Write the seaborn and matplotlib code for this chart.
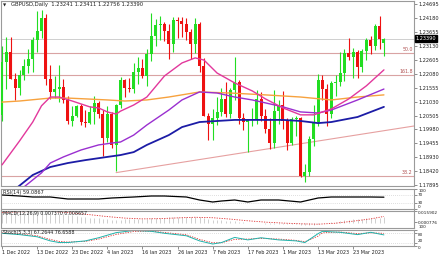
import numpy as np
import pandas as pd
import matplotlib
matplotlib.use("Agg")
import matplotlib.pyplot as plt
import seaborn as sns

# ---------------- data ----------------
date_labels = ["1 Dec 2022", "13 Dec 2022", "23 Dec 2022", "4 Jan 2023", "16 Jan 2023",
               "26 Jan 2023", "7 Feb 2023", "17 Feb 2023", "1 Mar 2023", "13 Mar 2023", "23 Mar 2023"]
date_label_bars = [0, 8, 16, 24, 32, 40, 48, 56, 64, 72, 80]

opens = [1.2054, 1.2252, 1.2290, 1.2189, 1.2154, 1.2203, 1.2236, 1.2264, 1.2334, 1.2367,
         1.2418, 1.2187, 1.2140, 1.2151, 1.2156, 1.2109, 1.2030, 1.2050, 1.2085, 1.2025,
         1.2024, 1.2064, 1.2097, 1.2056, 1.1965, 1.2058, 1.1938, 1.2091, 1.2183, 1.2155,
         1.2150, 1.2215, 1.2230, 1.2200, 1.2282, 1.2348, 1.2390, 1.2395, 1.2367, 1.2321,
         1.2411, 1.2407, 1.2394, 1.2366, 1.2319, 1.2395, 1.2236, 1.2050, 1.2020, 1.2042,
         1.2062, 1.2112, 1.2056, 1.2145, 1.2176, 1.2040, 1.2026, 1.2032, 1.2039, 1.2113,
         1.2049, 1.1999, 1.1947, 1.2067, 1.2090, 1.2031, 1.1948, 1.2038, 1.2040, 1.1823,
         1.1839, 1.1962, 1.2028, 1.2185, 1.2150, 1.2058, 1.2171, 1.2177, 1.2209, 1.2285,
         1.2272, 1.2290, 1.2232, 1.2292, 1.2335, 1.2310, 1.2385, 1.23241]
highs = [1.2310, 1.2345, 1.2345, 1.2210, 1.2221, 1.2262, 1.2300, 1.2345, 1.2444, 1.2446,
         1.2431, 1.2242, 1.2200, 1.2242, 1.2188, 1.2123, 1.2085, 1.2090, 1.2095, 1.2070,
         1.2087, 1.2123, 1.2105, 1.2070, 1.2086, 1.2064, 1.2095, 1.2195, 1.2187, 1.2190,
         1.2246, 1.2270, 1.2262, 1.2300, 1.2436, 1.2412, 1.2425, 1.2400, 1.2393, 1.2420,
         1.2420, 1.2420, 1.2418, 1.2375, 1.2417, 1.2402, 1.2268, 1.2060, 1.2075, 1.2120,
         1.2155, 1.2175, 1.2155, 1.2269, 1.2185, 1.2060, 1.2035, 1.2080, 1.2148, 1.2140,
         1.2075, 1.2040, 1.2145, 1.2110, 1.2143, 1.2040, 1.2045, 1.2050, 1.2045, 1.1870,
         1.1975, 1.2090, 1.2205, 1.2203, 1.2168, 1.2180, 1.2203, 1.2290, 1.2300, 1.2343,
         1.2305, 1.2295, 1.2300, 1.2343, 1.2350, 1.2395, 1.2423, 1.23411]
lows = [1.2030, 1.2151, 1.2186, 1.2107, 1.2127, 1.2184, 1.2210, 1.2214, 1.2290, 1.2340,
        1.2166, 1.2111, 1.2118, 1.2103, 1.2097, 1.2018, 1.2010, 1.2045, 1.2015, 1.2006,
        1.2017, 1.2018, 1.2040, 1.1900, 1.1950, 1.1930, 1.1841, 1.2080, 1.2120, 1.2140,
        1.2135, 1.2170, 1.2190, 1.2160, 1.2256, 1.2310, 1.2336, 1.2330, 1.2263, 1.2290,
        1.2341, 1.2347, 1.2336, 1.2263, 1.2286, 1.2213, 1.2050, 1.1960, 1.1960, 1.2015,
        1.2050, 1.2045, 1.2040, 1.2110, 1.2018, 1.1995, 1.1915, 1.2010, 1.2020, 1.2030,
        1.1985, 1.1925, 1.1930, 1.2020, 1.2000, 1.1920, 1.1940, 1.1975, 1.1818, 1.1802,
        1.1825, 1.1935, 1.2012, 1.2110, 1.2012, 1.2040, 1.2125, 1.2160, 1.2180, 1.2260,
        1.2190, 1.2190, 1.2215, 1.2260, 1.2280, 1.2295, 1.2300, 1.22756]
closes = [1.2252, 1.2288, 1.2189, 1.2154, 1.2203, 1.2236, 1.2264, 1.2334, 1.2367, 1.2418,
          1.2187, 1.2140, 1.2151, 1.2156, 1.2109, 1.2030, 1.2050, 1.2085, 1.2025, 1.2024,
          1.2064, 1.2097, 1.2056, 1.1965, 1.2058, 1.1938, 1.2091, 1.2183, 1.2155, 1.2150,
          1.2215, 1.2230, 1.2200, 1.2282, 1.2348, 1.2390, 1.2395, 1.2367, 1.2321, 1.2411,
          1.2407, 1.2394, 1.2366, 1.2319, 1.2395, 1.2236, 1.2050, 1.2020, 1.2042, 1.2062,
          1.2112, 1.2056, 1.2145, 1.2176, 1.2040, 1.2026, 1.2032, 1.2039, 1.2113, 1.2049,
          1.1999, 1.1947, 1.2067, 1.2090, 1.2031, 1.1948, 1.2038, 1.2040, 1.1823, 1.1839,
          1.1962, 1.2028, 1.2185, 1.2150, 1.2058, 1.2171, 1.2177, 1.2209, 1.2285, 1.2272,
          1.2290, 1.2232, 1.2292, 1.2335, 1.2310, 1.2385, 1.2338, 1.23390]

# moving averages (bar index, price)
ma_pink_bar = [0, 4, 7, 9, 11, 13, 16, 18, 20, 22, 24, 26, 27, 30, 33, 37, 41, 44, 46, 49,
               53, 57, 60, 64, 68, 71, 75, 79, 83, 87]
ma_pink_val = [1.1865, 1.1955, 1.2026, 1.2087, 1.2120, 1.2120, 1.2105, 1.2094, 1.2083, 1.2079,
               1.2064, 1.2056, 1.2067, 1.2090, 1.2120, 1.2199, 1.2248, 1.2267, 1.2259, 1.2210,
               1.2173, 1.2143, 1.2113, 1.2079, 1.2053, 1.2053, 1.2075, 1.2113, 1.2162, 1.2222]
ma_purple_bar = [5, 9, 11, 14, 18, 22, 25, 27, 30, 33, 38, 41, 45, 49, 53, 57, 60, 64, 68,
                 72, 75, 81, 87]
ma_purple_val = [1.1782, 1.1835, 1.1872, 1.1895, 1.1921, 1.1940, 1.1947, 1.1951, 1.1977, 1.2015,
                 1.2071, 1.2109, 1.2139, 1.2135, 1.2120, 1.2109, 1.2098, 1.2083, 1.2064,
                 1.2060, 1.2071, 1.2109, 1.2150]
ma_blue_bar = [3, 7, 11, 15, 19, 24, 27, 30, 33, 38, 41, 45, 49, 53, 57, 61, 64, 68, 72, 75, 81, 87]
ma_blue_val = [1.1774, 1.1827, 1.1857, 1.1872, 1.1883, 1.1895, 1.1902, 1.1913, 1.1940, 1.1977,
               1.2007, 1.2026, 1.2030, 1.2034, 1.2034, 1.2034, 1.2034, 1.2030, 1.2022, 1.2026,
               1.2045, 1.2083]
ma_orange_bar = [0, 4, 9, 11, 15, 19, 24, 28, 33, 38, 45, 52, 60, 68, 75, 81, 87]
ma_orange_val = [1.2101, 1.2105, 1.2113, 1.2116, 1.2116, 1.2113, 1.2109, 1.2105, 1.2109, 1.2120,
                 1.2139, 1.2135, 1.2128, 1.2120, 1.2109, 1.2120, 1.2128]

fib_levels = [1.2287, 1.2204, 1.1823]
fib_names = ["50.0", "161.8", "38.2"]
trend_bars = [26, 93.8]
trend_vals = [1.1836, 1.2011]
bid_price = 1.23390

price_ticks = [1.24695, 1.24180, 1.23655, 1.23130, 1.22605, 1.22080, 1.21555, 1.21030,
               1.20505, 1.19980, 1.19455, 1.18930, 1.18420, 1.17895]

rsi_bar = [0, 4, 7, 11, 15, 18, 22, 25, 30, 34, 37, 42, 45, 48, 50, 53, 56, 59, 63, 68, 72, 75, 80, 84, 87]
rsi_val = [70, 65, 60, 60, 50, 50, 50, 55, 60, 65, 65, 60, 45, 35, 40, 45, 35, 45, 45, 35, 55, 60, 60, 60, 59.09]

macd_bar = list(range(88))
macd_val = [0.0150, 0.0153, 0.0155, 0.0156, 0.0157, 0.0158, 0.0159, 0.0159, 0.0159, 0.0158,
            0.0150, 0.0140, 0.0132, 0.0124, 0.0116, 0.0108, 0.0100, 0.0093, 0.0086, 0.0078,
            0.0072, 0.0066, 0.0060, 0.0053, 0.0050, 0.0045, 0.0045, 0.0046, 0.0047, 0.0048,
            0.0050, 0.0052, 0.0055, 0.0058, 0.0062, 0.0066, 0.0069, 0.0072, 0.0074, 0.0076,
            0.0078, 0.0079, 0.0080, 0.0080, 0.0082, 0.0076, 0.0065, 0.0055, 0.0045, 0.0040,
            0.0035, 0.0030, 0.0026, 0.0022, 0.0016, 0.0010, 0.0005, 0.0002, 0.0000, -0.0004,
            -0.0008, -0.0012, -0.0010, -0.0008, -0.0010, -0.0014, -0.0016, -0.0018, -0.0028, -0.0032,
            -0.0030, -0.0022, -0.0008, 0.0002, 0.0006, 0.0014, 0.0020, 0.0028, 0.0036, 0.0042,
            0.0048, 0.0052, 0.0057, 0.0062, 0.0064, 0.0069, 0.0072, 0.0074]
macd_sig_bar = [0, 8, 12, 16, 20, 24, 28, 32, 36, 40, 44, 48, 52, 56, 60, 64, 68, 72, 76, 80, 84, 87]
macd_sig_val = [0.0140, 0.0153, 0.0150, 0.0132, 0.0110, 0.0085, 0.0065, 0.0055, 0.0058, 0.0068,
                0.0076, 0.0070, 0.0052, 0.0030, 0.0012, 0.0000, -0.0010, -0.0015, -0.0002, 0.0025,
                0.0055, 0.0087]

stoch_bar = [0, 4, 8, 11, 13, 15, 19, 22, 26, 30, 34, 37, 42, 45, 48, 50, 53, 56, 59, 63, 67, 69, 72, 73, 77, 81, 84, 87]
stoch_main = [77, 69, 56, 31, 21, 21, 31, 50, 81, 94, 89, 77, 62, 31, 12, 21, 52, 37, 50, 37, 31, 21, 75, 89, 83, 69, 83, 67.26]
stoch_sig = [80, 72, 62, 40, 28, 24, 28, 42, 70, 88, 90, 82, 68, 40, 20, 20, 40, 42, 46, 42, 34, 26, 60, 80, 85, 75, 80, 76.66]

# ---------------- figure ----------------
sns.set_theme(style="white")
plt.rcParams['font.family'] = ['DejaVu Sans']

W, H = 440, 254
fig = plt.figure(figsize=(W / 100, H / 100), dpi=100)
fig.patch.set_facecolor("white")

def px_axes(x0, y0, x1, y1):
    return fig.add_axes([x0 / W, 1 - y1 / H, (x1 - x0) / W, (y1 - y0) / H])

BAR_X0, BAR_DX = 2.0, 4.39
xl = ((0.5 - BAR_X0) / BAR_DX, (414 - BAR_X0) / BAR_DX)
frame_col = "#9a9a9a"
TXT = "#202020"

def style(a, fs=3.6):
    a.set_facecolor("white")
    for s in a.spines.values():
        s.set_color(frame_col)
        s.set_linewidth(0.8)
    a.set_xlim(*xl)
    a.set_xticks([])
    a.yaxis.tick_right()
    a.tick_params(axis="y", length=2, width=0.5, color="#606060", pad=1.0, labelsize=fs, labelcolor=TXT)
    a.grid(False)

# main panel
ax = px_axes(0.5, 0.5, 414, 186)
style(ax)
slope = 0.0003757
ax.set_ylim(1.24845 - 186 * slope, 1.24845 - 0.5 * slope)

idx = np.arange(len(opens))
o = np.array(opens); c = np.array(closes); h = np.array(highs); l = np.array(lows)
up = c >= o
cols = np.where(up, "#22dd22", "#ee1111")
ax.vlines(idx, l, h, colors=cols, linewidth=0.8, zorder=3)
body = np.maximum(np.abs(c - o), 0.00012)
ax.bar(idx, body, bottom=np.minimum(o, c), width=0.68, color=cols, linewidth=0, zorder=4)

# reference lines
for lv, nm in zip(fib_levels, fib_names):
    ax.axhline(lv, color="#d9a3a3", linewidth=0.8, zorder=1)
    ax.text(xl[1] - 0.3, lv + 0.0003, nm, ha="right", va="bottom", fontsize=3.4, color="#b05050")
ax.axhline(bid_price, color="#c8c8c8", linewidth=0.6, zorder=1)
sns.lineplot(x=trend_bars, y=trend_vals, ax=ax, color="#e6a0a0", linewidth=0.8, zorder=2)

sns.lineplot(x=ma_orange_bar, y=ma_orange_val, ax=ax, color="#f7a23e", linewidth=1.0, zorder=5)
sns.lineplot(x=ma_blue_bar, y=ma_blue_val, ax=ax, color="#1c1ca6", linewidth=1.3, zorder=5)
sns.lineplot(x=ma_purple_bar, y=ma_purple_val, ax=ax, color="#9a2fd0", linewidth=1.0, zorder=5)
sns.lineplot(x=ma_pink_bar, y=ma_pink_val, ax=ax, color="#e2389c", linewidth=1.0, zorder=5)

ax.set_yticks(price_ticks)
ax.set_yticklabels([f"{v:.5f}" for v in price_ticks])
ax.set_xlim(*xl)
ax.set_xlabel(""); ax.set_ylabel("")

ax.text(0.006, 0.985, "\u25BC", transform=ax.transAxes, fontsize=3.0, va="top", ha="left", color=TXT)
ax.text(0.026, 0.99, "GBPUSD,Daily  1.23241 1.23411 1.22756 1.23390", transform=ax.transAxes,
        fontsize=3.8, va="top", ha="left", color=TXT)
ylo, yhi = ax.get_ylim()
ax.text(1.004, (bid_price - ylo) / (yhi - ylo), "1.23390",
        transform=ax.transAxes, fontsize=3.6, va="center", ha="left", color="white",
        bbox=dict(boxstyle="square,pad=0.2", fc="black", ec="black"), zorder=10)

# RSI panel
ax_r = px_axes(0.5, 189, 414, 209)
style(ax_r, 3.0)
ax_r.set_ylim(0, 100)
for lv in (70, 30):
    ax_r.axhline(lv, color="#c0c0c0", linewidth=0.5, linestyle=(0, (1, 2)))
sns.lineplot(x=rsi_bar, y=rsi_val, ax=ax_r, color="black", linewidth=0.9)
ax_r.set_yticks([100, 70, 30, 0])
ax_r.set_yticklabels(["100", "70", "30", "0"])
ax_r.get_yticklabels()[0].set_va("top")
ax_r.get_yticklabels()[2].set_va("center")
ax_r.get_yticklabels()[3].set_va("bottom")
ax_r.set_xlim(*xl); ax_r.set_xlabel(""); ax_r.set_ylabel("")
ax_r.text(0.006, 0.95, "RSI(14) 59.0867", transform=ax_r.transAxes, fontsize=3.6, va="top", color=TXT)

# MACD panel
ax_m = px_axes(0.5, 210.5, 414, 228)
style(ax_m, 3.1)
ax_m.set_ylim(-0.0065, 0.0165)
ax_m.vlines(macd_bar, 0, macd_val, colors="#c8c8c8", linewidth=0.6)
sns.lineplot(x=macd_sig_bar, y=macd_sig_val, ax=ax_m, color="#e03030", linewidth=0.6, linestyle=(0, (1.5, 1.5)))
ax_m.set_yticks([0.015902, 0.000776])
ax_m.set_yticklabels(["0.015902", "0.000776"])
ax_m.get_yticklabels()[0].set_va("top")
ax_m.set_xlim(*xl); ax_m.set_xlabel(""); ax_m.set_ylabel("")
ax_m.text(0.006, 0.95, "MACD(12,26,9) 0.007370 0.008657", transform=ax_m.transAxes, fontsize=3.4, va="top", color=TXT)

# Stochastic panel
ax_s = px_axes(0.5, 229.5, 414, 246)
style(ax_s, 3.0)
ax_s.set_ylim(0, 100)
for lv in (80, 20):
    ax_s.axhline(lv, color="#c0c0c0", linewidth=0.5, linestyle=(0, (1, 2)))
sns.lineplot(x=stoch_bar, y=stoch_sig, ax=ax_s, color="#e03030", linewidth=0.6, linestyle=(0, (1.5, 1.5)))
sns.lineplot(x=stoch_bar, y=stoch_main, ax=ax_s, color="#20b2aa", linewidth=0.7)
ax_s.set_yticks([100, 80, 20, 0])
ax_s.set_yticklabels(["100", "80", "20", "0"])
ax_s.get_yticklabels()[0].set_va("bottom")
ax_s.get_yticklabels()[1].set_va("top")
ax_s.get_yticklabels()[2].set_va("bottom")
ax_s.get_yticklabels()[3].set_va("top")
ax_s.set_xlim(*xl); ax_s.set_xlabel(""); ax_s.set_ylabel("")
ax_s.text(0.006, 0.95, "Stoch(5,3,3) 67.2644 76.6588", transform=ax_s.transAxes, fontsize=3.4, va="top", color=TXT)

# date axis
ax_s.set_xticks(date_label_bars)
ax_s.set_xticklabels(date_labels)
ax_s.tick_params(axis="x", length=2, width=0.5, color="#606060", pad=0.8, labelsize=3.5, labelcolor=TXT, bottom=True)
for t in ax_s.get_xticklabels():
    t.set_ha("left")

fig.savefig("out.png", dpi=100, facecolor="white")
